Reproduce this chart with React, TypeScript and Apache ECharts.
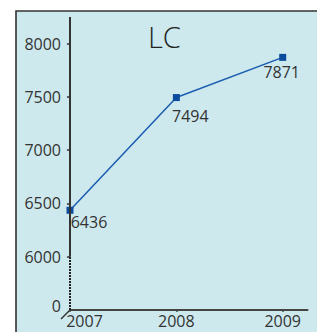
import React, { useEffect, useRef } from "react";
import * as echarts from "echarts";

// ---- data ----
const years = [2007, 2008, 2009];
const values = [6436, 7494, 7871];
const yTickValues = [6000, 6500, 7000, 7500, 8000];
const yAxisFloor = 5500; // shown as "0" (broken axis)
const yAxisTop = 8250;
const xAxisEnd = 2009.233;
const titleText = "LC";

// ---- styling (label nudges per point) ----
const labelOffsets: [number, number][] = [
  [19, 0],
  [14, 7],
  [-1, 3],
];

const FONT = "Open Sans";

export default function App() {
  const ref = useRef<HTMLDivElement>(null);
  useEffect(() => {
    if (!ref.current) return;
    const chart = echarts.init(ref.current, null, { renderer: "svg" });
    const seriesData = years.map((y, i) => ({
      value: [y, values[i]],
      label: { offset: labelOffsets[i] },
    }));
    chart.setOption({
      animation: false,
      backgroundColor: "#ffffff",
      graphic: [
        {
          type: "rect",
          z: -10,
          silent: true,
          shape: { x: 16, y: 11, width: 320, height: 340 },
          style: { fill: "#cde9ee", stroke: "#333333", lineWidth: 1.6 },
        },
        {
          type: "line",
          silent: true,
          shape: { x1: 61, y1: 319, x2: 70, y2: 310 },
          style: { stroke: "#333333", lineWidth: 1.5 },
        },
      ],
      title: {
        text: titleText,
        left: 143,
        top: 17,
        textStyle: {
          fontFamily: FONT,
          fontSize: 29,
          fontWeight: 300,
          color: "#222222",
        },
      },
      grid: { left: 70, top: 17, width: 237.5, height: 293, containLabel: false },
      xAxis: {
        type: "value",
        min: years[0],
        max: xAxisEnd,
        interval: 1,
        splitLine: { show: false },
        axisLine: { show: true, onZero: false, lineStyle: { color: "#444444", width: 2 } },
        axisTick: {
          show: true,
          customValues: years,
          length: 2,
          lineStyle: { color: "#444444", width: 1.5 },
        },
        axisLabel: {
          customValues: years,
          margin: 3,
          fontFamily: FONT,
          fontSize: 16,
          color: "#333333",
          formatter: (v: number) => (v === years[0] ? "{a|" + v + "}" : String(v)),
          rich: {
            a: { fontFamily: FONT, fontSize: 16, color: "#333333", padding: [0, 0, 0, 29] },
          },
        },
      },
      yAxis: {
        type: "value",
        min: yAxisFloor,
        max: yAxisTop,
        interval: 500,
        splitLine: { show: false },
        axisLine: { show: false },
        axisTick: {
          show: true,
          customValues: yTickValues,
          length: 3,
          lineStyle: { color: "#333333", width: 1.5 },
        },
        axisLabel: {
          customValues: [yAxisFloor, ...yTickValues],
          margin: 9,
          fontFamily: FONT,
          fontSize: 16,
          color: "#333333",
          formatter: (v: number) => (v === yAxisFloor ? "{z|0}" : String(v)),
          rich: {
            z: { fontFamily: FONT, fontSize: 16, color: "#333333", padding: [0, 0, 9, 0] },
          },
        },
      },
      series: [
        {
          type: "line",
          clip: false,
          data: seriesData,
          symbol: "rect",
          symbolSize: 7,
          itemStyle: { color: "#0c4c9e" },
          lineStyle: { color: "#1a5cb0", width: 1.5 },
          label: {
            show: true,
            position: "bottom",
            distance: 0,
            fontFamily: FONT,
            fontSize: 16,
            color: "#333333",
            formatter: (p: any) => String(p.value[1]),
          },
          markLine: {
            silent: true,
            symbol: ["none", "none"],
            label: { show: false },
            data: [
              [
                { coord: [years[0], yTickValues[0]], lineStyle: { type: "solid", color: "#333333", width: 2 } },
                { coord: [years[0], yAxisTop] },
              ],
              [
                { coord: [years[0], yAxisFloor], lineStyle: { type: [2, 1], color: "#222222", width: 2 } },
                { coord: [years[0], yTickValues[0]] },
              ],
            ],
          },
        },
      ],
    });
    return () => chart.dispose();
  }, []);
  return (
    <div
      ref={ref}
      style={{ position: "fixed", left: 0, top: 0, width: 317, height: 332 }}
    />
  );
}
